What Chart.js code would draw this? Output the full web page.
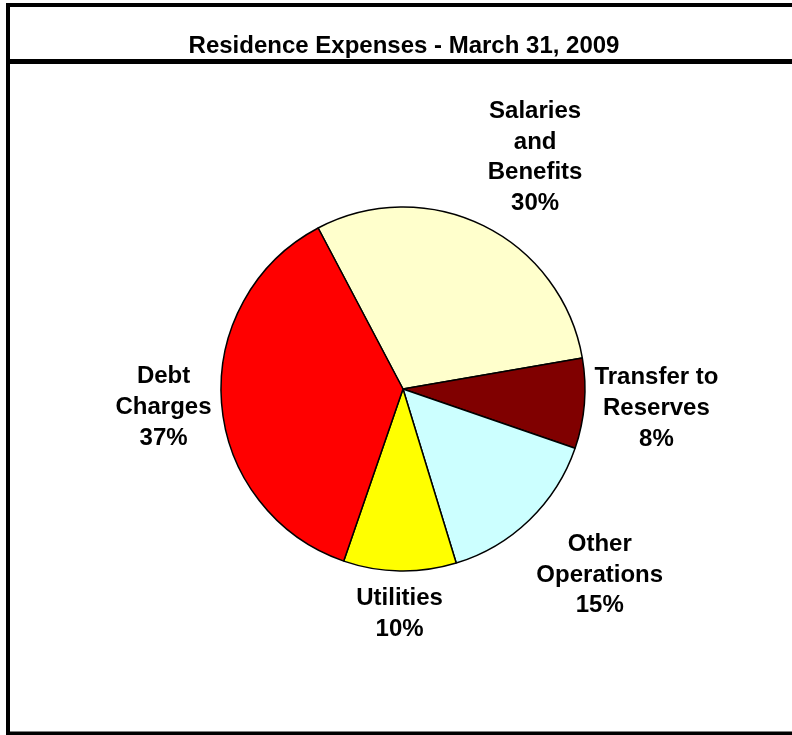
<!DOCTYPE html>
<html>
<head>
<meta charset="utf-8">
<title>Residence Expenses - March 31, 2009</title>
<script src="https://cdn.jsdelivr.net/npm/chart.js@4.4.1/dist/chart.umd.min.js"></script>
<style>
  html, body { margin: 0; padding: 0; background: #fff; }
  canvas { display: block; }
</style>
</head>
<body>
<canvas id="expenses" width="792" height="735"></canvas>
<script>
const chartTitle = "Residence Expenses - March 31, 2009";
// label lines as wrapped in the chart
const categories = [
  ["Salaries", "and", "Benefits"],
  ["Transfer to", "Reserves"],
  ["Other", "Operations"],
  ["Utilities"],
  ["Debt", "Charges"]
];
const percentages = [30, 8, 15, 10, 37];
const sliceColors = ["#FFFFCC", "#800000", "#CCFFFF", "#FFFF00", "#FF0000"];

const FONT = "bold 24px 'Liberation Sans', Arial, sans-serif";
const LINE_H = 30.7;

// outer frame + title box
const framePlugin = {
  id: "frame",
  beforeDraw(chart) {
    const ctx = chart.ctx;
    ctx.save();
    ctx.fillStyle = "#fff";
    ctx.fillRect(0, 0, chart.width, chart.height);
    ctx.strokeStyle = "#000";
    ctx.lineWidth = 4;
    ctx.beginPath();
    ctx.moveTo(800, 5);
    ctx.lineTo(8, 5);
    ctx.lineTo(8, 733.5);
    ctx.lineTo(800, 733.5);
    ctx.stroke();
    ctx.lineWidth = 5;
    ctx.beginPath();
    ctx.moveTo(8, 61.5);
    ctx.lineTo(800, 61.5);
    ctx.stroke();
    ctx.fillStyle = "#000";
    ctx.font = FONT;
    ctx.textAlign = "center";
    ctx.textBaseline = "alphabetic";
    ctx.fillText(chartTitle, 404, 53);
    ctx.restore();
  }
};

// how far the label box leans toward its slice, per axis
const lean = c => Math.sign(c) * Math.pow(Math.min(1, Math.abs(c) / 0.4), 2);

// category + percent labels placed just outside each slice
const outsideLabels = {
  id: "outsideLabels",
  afterDatasetsDraw(chart) {
    const ctx = chart.ctx;
    const meta = chart.getDatasetMeta(0);
    const gap = 10;
    ctx.save();
    ctx.font = FONT;
    ctx.fillStyle = "#000";
    ctx.textAlign = "center";
    ctx.textBaseline = "alphabetic";
    meta.data.forEach((arc, i) => {
      const { x, y, startAngle, endAngle, outerRadius } = arc.getProps(
        ["x", "y", "startAngle", "endAngle", "outerRadius"], true);
      const mid = (startAngle + endAngle) / 2;
      const cx = Math.cos(mid), cy = Math.sin(mid);
      const lines = categories[i].concat([percentages[i] + "%"]);
      const w = Math.max(...lines.map(l => ctx.measureText(l).width));
      const h = lines.length * LINE_H;
      const px = x + cx * (outerRadius + gap);
      const py = y + cy * (outerRadius + gap);
      const lx = px + lean(cx) * w / 2;
      const ly = py + lean(cy) * h / 2;
      const top = ly - h / 2;
      lines.forEach((line, k) => {
        ctx.fillText(line, lx, top + LINE_H * k + LINE_H / 2 + 8.6);
      });
    });
    ctx.restore();
  }
};

new Chart(document.getElementById("expenses"), {
  type: "pie",
  data: {
    labels: categories.map(c => c.join(" ")),
    datasets: [{
      data: percentages,
      backgroundColor: sliceColors,
      borderColor: "#000",
      borderWidth: 1.5,
      radius: 182
    }]
  },
  options: {
    responsive: false,
    animation: false,
    rotation: -27.8,
    layout: { padding: { left: 40, right: 26, top: 80, bottom: 37 } },
    plugins: {
      legend: { display: false },
      tooltip: { enabled: false }
    }
  },
  plugins: [framePlugin, outsideLabels]
});
</script>
</body>
</html>
